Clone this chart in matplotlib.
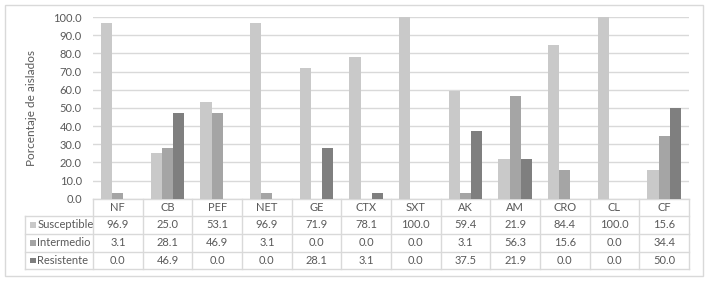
import matplotlib.pyplot as plt
from matplotlib.patches import Rectangle
import numpy as np

plt.rcParams['font.family'] = ['Lato', 'DejaVu Sans']

categories = ['NF', 'CB', 'PEF', 'NET', 'GE', 'CTX', 'SXT', 'AK', 'AM', 'CRO', 'CL', 'CF']
susceptible = [96.9, 25.0, 53.1, 96.9, 71.9, 78.1, 100.0, 59.4, 21.9, 84.4, 100.0, 15.6]
intermedio = [3.1, 28.1, 46.9, 3.1, 0.0, 0.0, 0.0, 3.1, 56.3, 15.6, 0.0, 34.4]
resistente = [0.0, 46.9, 0.0, 0.0, 28.1, 3.1, 0.0, 37.5, 21.9, 0.0, 0.0, 50.0]
series_names = ['Susceptible', 'Intermedio', 'Resistente']
series_vals = [susceptible, intermedio, resistente]
colors = ['#c9c9c9', '#a5a5a5', '#7f7f7f']

txt_color = '#595959'
line_color = '#d9d9d9'
fs = 8

W, H = 709, 281
fig = plt.figure(figsize=(W / 100, H / 100), dpi=100)

# outer frame
fig.patches.append(Rectangle((5 / W, 5 / H), 698 / W, 271 / H, transform=fig.transFigure,
                             fill=False, edgecolor='#d9d9d9', linewidth=1))

left, right, top, bottom = 93, 689, 17, 198.7
ax = fig.add_axes([left / W, 1 - bottom / H, (right - left) / W, (bottom - top) / H])

x = np.arange(len(categories))
bw = 0.225
for k, (vals, c) in enumerate(zip(series_vals, colors)):
    ax.bar(x + (k - 1) * bw, vals, width=bw, color=c, zorder=3)

ax.set_xlim(-0.5, len(categories) - 0.5)
ax.set_ylim(0, 100)
ax.set_yticks(np.arange(0, 101, 10))
ax.set_yticklabels([f'{v:.1f}' for v in np.arange(0, 101, 10)], color=txt_color, fontsize=fs)
ax.tick_params(axis='y', length=0, pad=8)
ax.set_xticks([])
ax.grid(axis='y', color=line_color, linewidth=1, zorder=0)
for s in ax.spines.values():
    s.set_visible(False)
ax.set_ylabel('Porcentaje de aislados', color=txt_color, fontsize=fs + 0.5, labelpad=12)

# data table below the plot
ah = bottom - top
aw = right - left
row_edges = [0, -17.3 / ah, -35.3 / ah, -53.3 / ah, -70.3 / ah]
xl = (25 - left) / aw
n = len(categories)
tr = ax.transAxes
kw = dict(transform=tr, clip_on=False, color=line_color, linewidth=1)

# horizontal lines
ax.plot([0, 1], [row_edges[0]] * 2, **kw)
for ye in row_edges[1:]:
    ax.plot([xl, 1], [ye, ye], **kw)
# vertical lines
for k in range(n + 1):
    ax.plot([k / n, k / n], [row_edges[0], row_edges[-1]], **kw)
ax.plot([xl, xl], [row_edges[1], row_edges[-1]], **kw)

# header
for k, cat in enumerate(categories):
    yc = (row_edges[0] + row_edges[1]) / 2
    ax.text((k + 0.5) / n, yc, cat, transform=tr, ha='center', va='center',
            color=txt_color, fontsize=fs)

# rows
for r, (name, vals, c) in enumerate(zip(series_names, series_vals, colors)):
    yc = (row_edges[r + 1] + row_edges[r + 2]) / 2
    sq = 5.5
    ax.add_patch(Rectangle((xl + 5 / aw, yc - sq / 2 / ah), sq / aw, sq / ah, transform=tr,
                           clip_on=False, facecolor=c, edgecolor='none'))
    ax.text(xl + 12.5 / aw, yc, name, transform=tr, ha='left', va='center',
            color=txt_color, fontsize=fs)
    for k, v in enumerate(vals):
        ax.text((k + 0.5) / n, yc, f'{v:.1f}', transform=tr, ha='center', va='center',
                color=txt_color, fontsize=fs)

fig.savefig('out.png', dpi=100)
